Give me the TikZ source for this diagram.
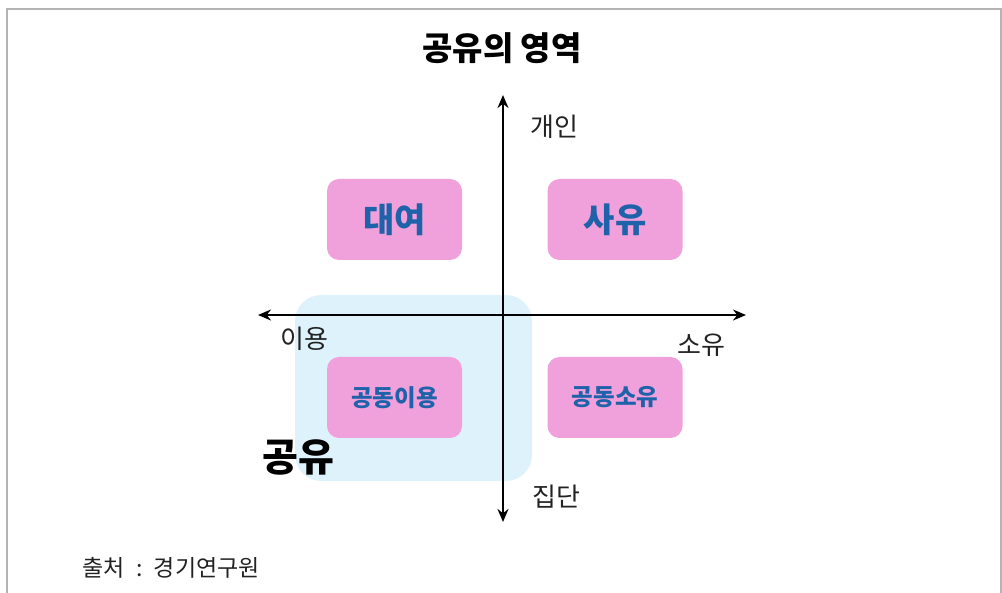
\documentclass[tikz,border=0pt]{standalone}
\usepackage{fontspec}
\setmainfont{Noto Sans CJK KR}
\usetikzlibrary{arrows.meta}
\definecolor{framegray}{HTML}{B4B4B4}
\definecolor{boxpink}{HTML}{F0A0DA}
\definecolor{boxtext}{HTML}{1E62AA}
\definecolor{sharebg}{HTML}{DEF2FC}
\definecolor{labelgray}{HTML}{222222}
\tikzset{
  quad/.style={draw=none, fill=boxpink, rounded corners=12pt, minimum width=135pt, minimum height=81pt, inner sep=0pt, text=boxtext},
  axislabel/.style={font=\fontsize{26pt}{28pt}\selectfont, text=labelgray, inner sep=0pt},
  axis/.style={line width=2.6pt, {Stealth[length=13pt,width=11pt]}-{Stealth[length=13pt,width=11pt]}}
}
\begin{document}
\begin{tikzpicture}[x=1pt,y=-1pt]
\useasboundingbox (0,0) rectangle (1002,593);
% frame
\draw[framegray, line width=2pt] (7,593) -- (7,9) -- (1001,9) -- (1001,593);
% title
\node[font=\fontsize{33pt}{35pt}\selectfont\bfseries, inner sep=0pt] (title) at (502,48) {공유의 영역};
% sharing area
\node[fill=sharebg, draw=none, rounded corners=26pt, minimum width=237pt, minimum height=186pt, inner sep=0pt] (share) at (413.5,388) {};
% quadrant boxes
\node[quad, font=\fontsize{34pt}{36pt}\selectfont\bfseries] (rent) at (394.5,219.5) {대여};
\node[quad, font=\fontsize{34pt}{36pt}\selectfont\bfseries] (private) at (615,219.5) {사유};
\node[quad, font=\fontsize{23.5pt}{25pt}\selectfont\bfseries] (couse) at (394.5,397.5) {공동이용};
\node[quad, font=\fontsize{23.5pt}{25pt}\selectfont\bfseries] (coown) at (615,397.5) {공동소유};
% axes
\coordinate (top) at (503,95);
\coordinate (bottom) at (503,522);
\coordinate (left) at (258,315);
\coordinate (right) at (746,315);
\draw[axis] (bottom) -- (top);
\draw[axis] (left) -- (right);
% axis labels
\node[axislabel] (indiv) at (554,127) {개인};
\node[axislabel] (use) at (304,339) {이용};
\node[axislabel] (own) at (701,345) {소유};
\node[axislabel] (group) at (556,497) {집단};
% big label
\node[font=\fontsize{39pt}{41pt}\selectfont\bfseries, inner sep=0pt] (sharing) at (298,457) {공유};
% source
\node[anchor=west, font=\fontsize{23pt}{25pt}\selectfont, text=labelgray, inner sep=0pt] (src) at (82,568) {출처\hspace{0.5em}:\hspace{0.5em}경기연구원};
\end{tikzpicture}
\end{document}
